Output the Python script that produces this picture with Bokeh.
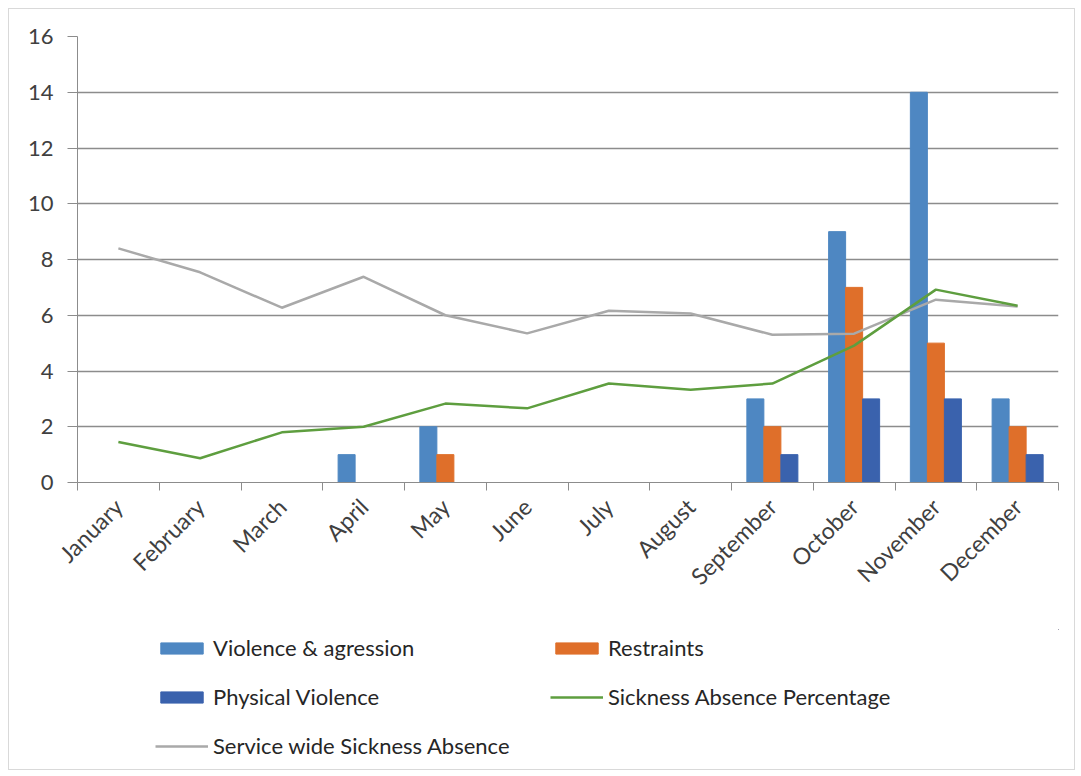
import math
from bokeh.plotting import figure
from bokeh.layouts import column
from bokeh.models import (Range1d, FixedTicker, Legend, LegendItem, ColumnDataSource)
from bokeh.embed import file_html
from bokeh.resources import INLINE

months = ["January", "February", "March", "April", "May", "June", "July",
          "August", "September", "October", "November", "December"]
violence = [0, 0, 0, 1, 2, 0, 0, 0, 3, 9, 14, 3]
restraints = [0, 0, 0, 0, 1, 0, 0, 0, 2, 7, 5, 2]
physical = [0, 0, 0, 0, 0, 0, 0, 0, 1, 3, 3, 1]
sickness_pct = [1.45, 0.87, 1.8, 2.0, 2.83, 2.66, 3.55, 3.33, 3.55, 4.91, 6.92, 6.34]
service_wide = [8.4, 7.54, 6.27, 7.38, 6.0, 5.35, 6.16, 6.06, 5.3, 5.34, 6.56, 6.31]
y_ticks = [0, 2, 4, 6, 8, 10, 12, 14, 16]
series_names = ["Violence & agression", "Restraints", "Physical Violence",
                "Sickness Absence Percentage", "Service wide Sickness Absence"]

FONT = "Lato"
C_V, C_R, C_P, C_S, C_W = "#4e87c2", "#df6f2a", "#3a62ad", "#5e9e3f", "#a9a9a9"
centers = [i + 0.5 for i in range(len(months))]
bw = 0.208

src = ColumnDataSource(dict(x=centers, s=sickness_pct, w=service_wide))
src1 = ColumnDataSource(dict(x=[c - bw for c in centers], v=violence))
src2 = ColumnDataSource(dict(x=centers, r=restraints))
src3 = ColumnDataSource(dict(x=[c + bw for c in centers], p=physical))

p = figure(width=1065, height=620, output_backend="svg", toolbar_location=None,
           x_range=Range1d(0, 12), y_range=Range1d(0, 16),
           min_border_left=68, min_border_top=27, min_border_right=16,
           min_border_bottom=147)
p.outline_line_color = None
p.background_fill_color = "white"
p.border_fill_color = "white"

p.vbar(x="x", top="v", width=bw, bottom=0, source=src1, color=C_V)
p.vbar(x="x", top="r", width=bw, bottom=0, source=src2, color=C_R)
p.vbar(x="x", top="p", width=bw, bottom=0, source=src3, color=C_P)
p.line(x="x", y="w", source=src, line_color=C_W, line_width=2.5)
p.line(x="x", y="s", source=src, line_color=C_S, line_width=2.5)

# axes
p.yaxis.ticker = FixedTicker(ticks=y_ticks)
p.yaxis.major_label_text_font = FONT
p.yaxis.major_label_text_font_size = "22px"
p.yaxis.major_label_text_color = "#404040"
p.yaxis.axis_line_color = "#8c8c8c"
p.yaxis.major_tick_line_color = "#8c8c8c"
p.yaxis.major_tick_out = 10
p.yaxis.major_tick_in = 0
p.yaxis.minor_tick_line_color = None
p.yaxis.major_label_standoff = 14

p.xaxis.ticker = FixedTicker(ticks=centers, minor_ticks=list(range(13)))
p.xaxis.major_label_overrides = {c: m for c, m in zip(centers, months)}
p.xaxis.major_label_orientation = math.pi / 4
p.xaxis.major_label_text_font = FONT
p.xaxis.major_label_text_font_size = "23px"
p.xaxis.major_label_text_color = "#404040"
p.xaxis.axis_line_color = "#8c8c8c"
p.xaxis.major_tick_line_color = None
p.xaxis.minor_tick_line_color = "#8c8c8c"
p.xaxis.minor_tick_out = 8
p.xaxis.minor_tick_in = 0
p.xaxis.major_label_standoff = 12

p.xgrid.grid_line_color = None
p.ygrid.grid_line_color = "#8c8c8c"
p.ygrid.grid_line_width = 1.3

# legend figure (swatch renderers sit far outside its visible range)
pl = figure(width=1065, height=140, output_backend="svg", toolbar_location=None,
            x_range=Range1d(0, 1), y_range=Range1d(0, 1),
            min_border=0, x_axis_type=None, y_axis_type=None)
pl.outline_line_color = None
pl.grid.visible = False
pl.border_fill_color = "white"
l1 = pl.vbar(x=[50], top=[51], bottom=[50], width=0.1, color=C_V)
l2 = pl.vbar(x=[50], top=[51], bottom=[50], width=0.1, color=C_R)
l3 = pl.vbar(x=[50], top=[51], bottom=[50], width=0.1, color=C_P)
l4 = pl.line(x=[50, 51], y=[50, 51], line_color=C_S, line_width=2.5)
l5 = pl.line(x=[50, 51], y=[50, 51], line_color=C_W, line_width=2.5)

# column-major fill -> reorder so rows read as in the reference
order = [0, 2, 4, 1, 3]
rends = [l1, l2, l3, l4, l5]
legend = Legend(items=[LegendItem(label=series_names[i], renderers=[rends[i]])
                       for i in order],
                ncols=2, location=(78, 10))
legend.border_line_color = None
legend.background_fill_alpha = 0
legend.padding = 0
legend.margin = 0
legend.glyph_width = 53
legend.glyph_height = 14
legend.label_height = 24
legend.spacing = 22
legend.label_standoff = 5
legend.label_width = 315
legend.label_text_font = FONT
legend.label_text_font_size = "22px"
legend.label_text_color = "#262626"
pl.add_layout(legend, "center")

layout = column(p, pl, spacing=0)
layout.margin = (8, 6, 6, 8)
layout.styles = {"border": "1px solid #d9d9d9", "background": "white"}

open("out.html", "w").write(file_html(layout, INLINE))
